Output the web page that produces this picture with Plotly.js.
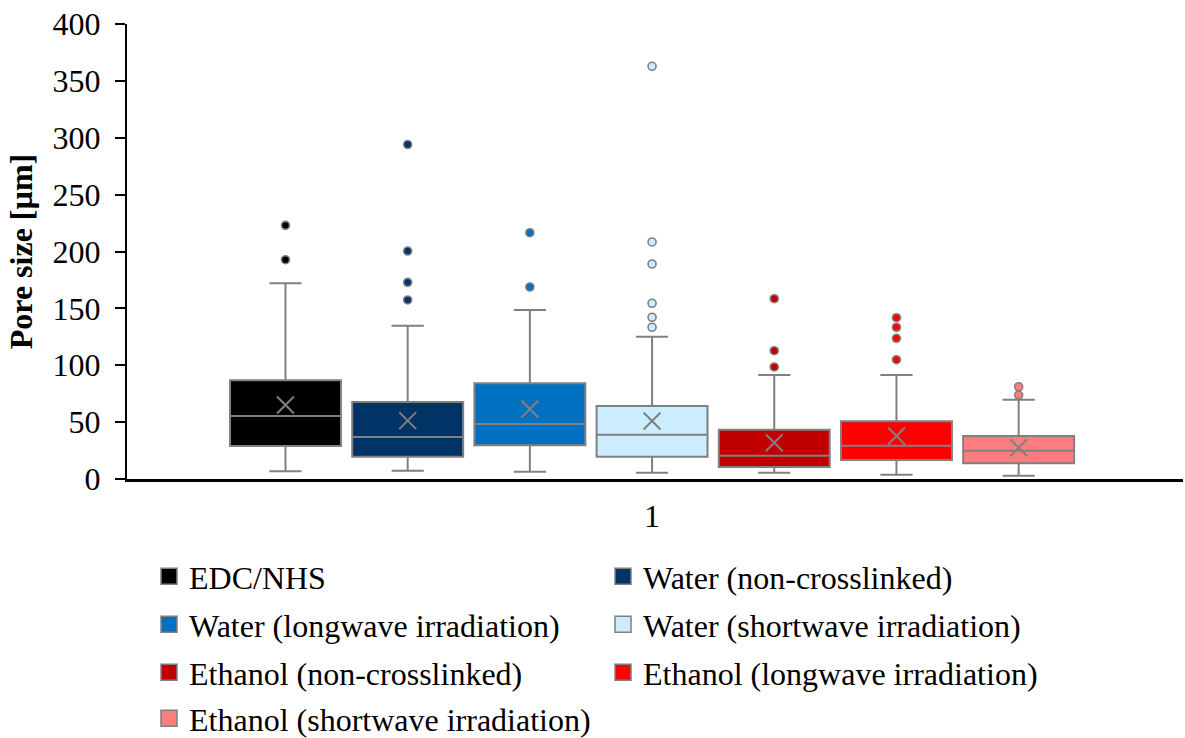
<!DOCTYPE html>
<html>
<head>
<meta charset="utf-8">
<script src="https://cdn.plot.ly/plotly-3.0.1.min.js"></script>
<style>
  html, body { margin: 0; padding: 0; background: #ffffff; }
  #chart { width: 1185px; height: 738px; }
</style>
</head>
<body>
<div id="chart"></div>
<script>
// Pore size distributions per crosslinking / solvent condition (µm)
const categoryLabel = '1';
const groups = [
  'EDC/NHS',
  'Water (non-crosslinked)',
  'Water (longwave irradiation)',
  'Water (shortwave irradiation)',
  'Ethanol (non-crosslinked)',
  'Ethanol (longwave irradiation)',
  'Ethanol (shortwave irradiation)'
];
const fillColors = ['#000000', '#003366', '#0070C0', '#CCECFF', '#C00000', '#FF0000', '#FF7C80'];

const lowerWhisker = [6.8, 7.3, 6.4, 5.5, 5.5, 3.8, 2.9];
const q1Values     = [29.0, 19.6, 29.6, 19.6, 10.5, 16.7, 13.8];
const medianValues = [55.4, 36.9, 48.4, 38.9, 20.5, 29.3, 24.9];
const q3Values     = [86.8, 67.7, 84.1, 64.2, 43.3, 50.7, 37.8];
const upperWhisker = [172.0, 134.8, 148.6, 125.1, 91.4, 91.4, 69.7];
const meanValues   = [65.1, 51.3, 61.5, 51.0, 31.9, 37.8, 27.5];

const outliersEDC        = [223.0, 192.8];
const outliersWaterNon   = [294.0, 200.4, 172.9, 157.4];
const outliersWaterLong  = [216.5, 168.8];
const outliersWaterShort = [362.8, 208.4, 189.0, 154.5, 142.2, 133.4];
const outliersEthNon     = [158.5, 112.8, 98.5];
const outliersEthLong    = [141.8, 133.4, 123.7, 104.9];
const outliersEthShort   = [81.1, 73.8];
const outlierSets = [outliersEDC, outliersWaterNon, outliersWaterLong, outliersWaterShort,
                     outliersEthNon, outliersEthLong, outliersEthShort];

const yTicks = [0, 50, 100, 150, 200, 250, 300, 350, 400];

const edgeGray = '#808080';
const serif = '"Liberation Serif", "Times New Roman", serif';
const textSize = 32;

const traces = [];

// one box per group, laid side by side around the single category
groups.forEach((name, i) => {
  traces.push({
    type: 'box',
    name: name,
    x: [i],
    q1: [q1Values[i]],
    median: [medianValues[i]],
    q3: [q3Values[i]],
    lowerfence: [lowerWhisker[i]],
    upperfence: [upperWhisker[i]],
    width: 0.908,
    whiskerwidth: 0.29,
    fillcolor: fillColors[i],
    line: { color: edgeGray, width: 2 },
    boxpoints: false,
    showlegend: false,
    hoverinfo: 'skip'
  });
});

// outlier points
groups.forEach((name, i) => {
  traces.push({
    type: 'scatter',
    mode: 'markers',
    x: outlierSets[i].map(() => i),
    y: outlierSets[i],
    marker: { color: fillColors[i], size: 8, line: { color: edgeGray, width: 1.6 } },
    showlegend: false,
    hoverinfo: 'y'
  });
});

// mean markers
traces.push({
  type: 'scatter',
  mode: 'markers',
  x: groups.map((g, i) => i),
  y: meanValues,
  marker: { symbol: 'x-thin-open', size: 17, color: edgeGray, line: { color: edgeGray, width: 2 } },
  showlegend: false,
  hoverinfo: 'y'
});

// legend swatches: two entries per legend row
const legendIds = ['legend', 'legend2', 'legend3', 'legend4'];
groups.forEach((name, i) => {
  traces.push({
    type: 'scatter',
    mode: 'markers',
    name: name,
    x: [null],
    y: [null],
    legend: legendIds[Math.floor(i / 2)],
    marker: { symbol: 'square', size: 16, color: fillColors[i], line: { color: edgeGray, width: 1.5 } },
    showlegend: true
  });
});

const rowTops = [549, 597, 645, 691];
function legendRow(top) {
  return {
    orientation: 'h',
    xref: 'container',
    yref: 'container',
    x: 149 / 1185,
    xanchor: 'left',
    y: 1 - top / 738,
    yanchor: 'top',
    entrywidth: 409,
    entrywidthmode: 'pixels',
    font: { family: serif, size: textSize, color: '#000000' },
    bgcolor: 'rgba(0,0,0,0)',
    itemclick: false,
    itemdoubleclick: false
  };
}

const layout = {
  width: 1185,
  height: 738,
  margin: { l: 127, r: 2, t: 24, b: 259 },
  paper_bgcolor: '#ffffff',
  plot_bgcolor: '#ffffff',
  font: { family: serif, size: textSize, color: '#000000' },
  showlegend: true,
  xaxis: {
    range: [-1.297, 7.345],
    tickmode: 'array',
    tickvals: [3],
    ticktext: [categoryLabel],
    showgrid: false,
    zeroline: false,
    showline: true,
    linecolor: '#000000',
    linewidth: 3,
    ticks: '',
    ticklabelstandoff: 7,
    tickfont: { family: serif, size: textSize, color: '#000000' },
    fixedrange: true
  },
  yaxis: {
    range: [0, 400],
    tickmode: 'array',
    tickvals: yTicks,
    ticktext: yTicks.map(String),
    showgrid: false,
    zeroline: false,
    showline: true,
    linecolor: '#000000',
    linewidth: 2,
    ticks: 'outside',
    ticklen: 10,
    tickwidth: 2,
    tickcolor: '#000000',
    ticklabelstandoff: 8,
    tickfont: { family: serif, size: textSize, color: '#000000' },
    title: { text: 'Pore size [µm]', font: { family: serif, size: textSize, color: '#000000', weight: 'bold' }, standoff: 10 },
    fixedrange: true
  }
};
legendIds.forEach((id, r) => { layout[id] = legendRow(rowTops[r]); });

Plotly.newPlot('chart', traces, layout, { displayModeBar: false, staticPlot: true });
</script>
</body>
</html>
